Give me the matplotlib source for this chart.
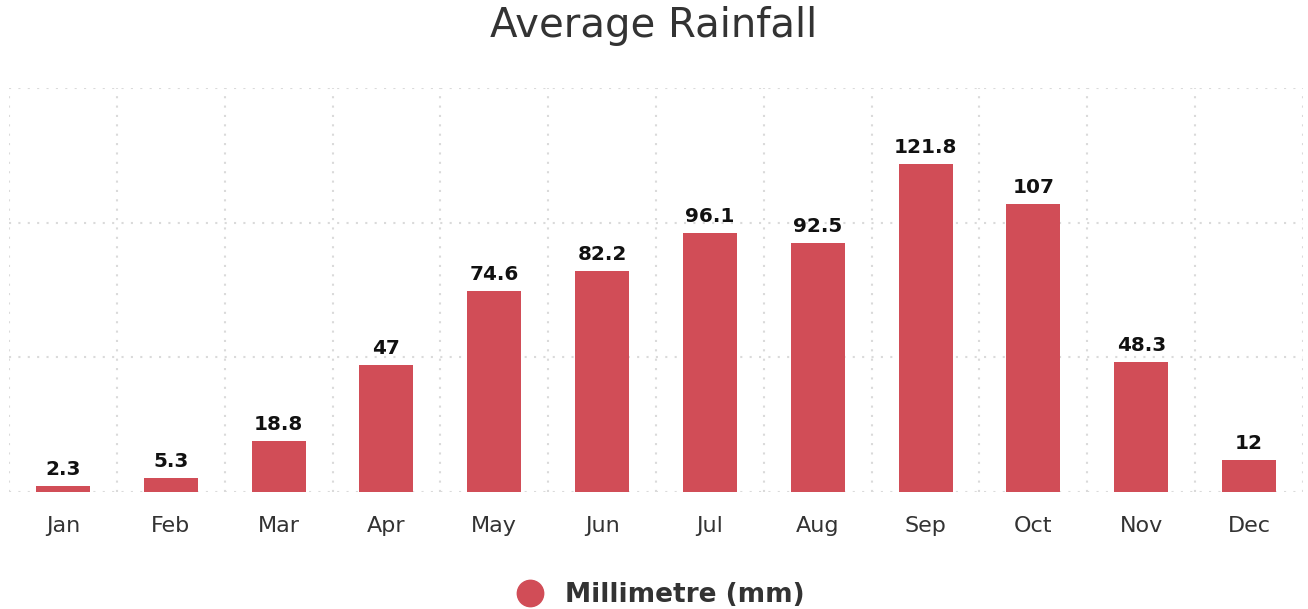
import matplotlib.pyplot as plt
from matplotlib.lines import Line2D

months = ['Jan', 'Feb', 'Mar', 'Apr', 'May', 'Jun', 'Jul', 'Aug', 'Sep', 'Oct', 'Nov', 'Dec']
rainfall = [2.3, 5.3, 18.8, 47, 74.6, 82.2, 96.1, 92.5, 121.8, 107, 48.3, 12]
labels = ['2.3', '5.3', '18.8', '47', '74.6', '82.2', '96.1', '92.5', '121.8', '107', '48.3', '12']
series_name = 'Millimetre (mm)'
bar_color = '#D14D57'
grid_color = '#dadada'

fig = plt.figure(figsize=(13.08, 6.09), dpi=100)
ax = fig.add_axes([9 / 1308, 117 / 609, 1294 / 1308, 404 / 609])

x = range(len(months))
bars = ax.bar(x, rainfall, width=0.5, color=bar_color, zorder=3)
for b, lab in zip(bars, labels):
    ax.annotate(lab, (b.get_x() + b.get_width() / 2, b.get_height()),
                xytext=(0, 5), textcoords='offset points', ha='center', va='bottom',
                fontsize=14.4, fontweight='bold', color='#111111')

ax.set_xlim(-0.5, len(months) - 0.5)
ax.set_ylim(0, 150)
ax.set_yticks([0, 50, 100, 150])
ax.set_yticklabels([])
ax.set_xticks(list(x))
ax.set_xticklabels(months, fontsize=16, color='#333333')
ax.set_xticks([i - 0.5 for i in range(len(months) + 1)], minor=True)
ax.tick_params(axis='x', which='both', length=0, pad=17)
ax.tick_params(axis='y', length=0)
dots = (0, (1, 3.5))
ax.grid(axis='y', which='major', color=grid_color, linestyle=dots, linewidth=1.5, zorder=0)
ax.grid(axis='x', which='minor', color=grid_color, linestyle=dots, linewidth=1.5, zorder=0)
ax.grid(axis='x', which='major', visible=False)
for s in ax.spines.values():
    s.set_visible(False)

fig.suptitle('Average Rainfall', y=0.99, fontsize=29, color='#333333')

handle = Line2D([], [], marker='o', linestyle='', markersize=19, color=bar_color)
fig.legend([handle], [series_name], loc='center', bbox_to_anchor=(0.5, 0.023),
           frameon=False, prop={'size': 19, 'weight': 'bold'}, labelcolor='#333333',
           handletextpad=0.3)

fig.savefig('out.png', dpi=100, facecolor='white')
